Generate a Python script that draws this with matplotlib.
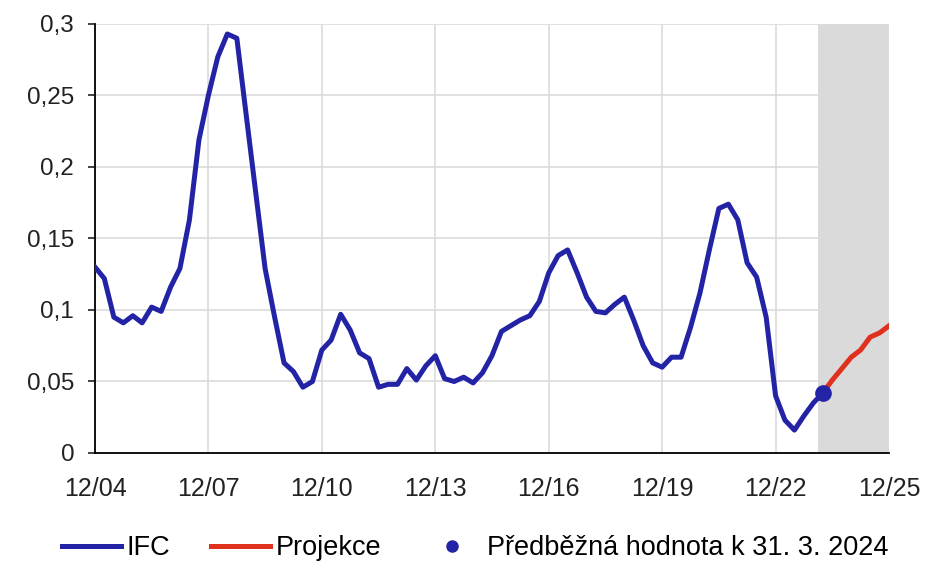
import pandas as pd
import matplotlib
matplotlib.use("Agg")
import matplotlib.pyplot as plt
import matplotlib.dates as mdates
from matplotlib.lines import Line2D

plt.rcParams["font.family"] = ["Liberation Sans", "DejaVu Sans"]
plt.rcParams["font.size"] = 17.5

# IFC, čtvrtletně od 12/2004 do 3/2024
ifc = [0.130, 0.122, 0.095, 0.091, 0.096, 0.091, 0.102, 0.099, 0.116, 0.129,
       0.163, 0.219, 0.250, 0.277, 0.293, 0.290, 0.236, 0.183, 0.129, 0.095,
       0.063, 0.057, 0.046, 0.050, 0.072, 0.079, 0.097, 0.086, 0.070, 0.066,
       0.046, 0.048, 0.048, 0.059, 0.051, 0.061, 0.068, 0.052, 0.050, 0.053,
       0.049, 0.056, 0.068, 0.085, 0.089, 0.093, 0.096, 0.106, 0.126, 0.138,
       0.142, 0.126, 0.109, 0.099, 0.098, 0.104, 0.109, 0.093, 0.075, 0.063,
       0.060, 0.067, 0.067, 0.088, 0.112, 0.142, 0.171, 0.174, 0.163, 0.133,
       0.123, 0.095, 0.040, 0.023, 0.016, 0.026, 0.035, 0.042]

# projekce od 3/2024 do 12/2025
projekce = [0.042, 0.051, 0.059, 0.067, 0.072, 0.081, 0.084, 0.089]

predbezna_datum = "2024-03-01"
predbezna_hodnota = 0.042

y_ticks = [0, 0.05, 0.1, 0.15, 0.2, 0.25, 0.3]
y_labels = ["0", "0,05", "0,1", "0,15", "0,2", "0,25", "0,3"]

dates = pd.date_range("2004-12-01", periods=len(ifc), freq="3MS")
proj_dates = pd.date_range("2024-03-01", periods=len(projekce), freq="3MS")
x_ticks = pd.date_range("2004-12-01", "2025-12-01", freq="36MS")

blue = "#2323a6"
red = "#e0301e"

fig = plt.figure(figsize=(9.26, 5.63), dpi=100)
ax = fig.add_axes([0.1026, 0.1954, 0.8575, 0.762])

ax.axvspan(pd.Timestamp("2024-01-15"), pd.Timestamp("2025-12-01"),
           color="#dadada", lw=0, zorder=0)
ax.plot(dates, ifc, color=blue, lw=3.6, solid_joinstyle="round", zorder=3)
ax.plot(proj_dates, projekce, color=red, lw=3.6, solid_joinstyle="round", zorder=3)
ax.plot(pd.Timestamp(predbezna_datum), predbezna_hodnota, "o", color=blue,
        ms=11, zorder=4)

ax.set_xlim(pd.Timestamp("2004-12-01"), pd.Timestamp("2025-12-01"))
ax.set_ylim(0, 0.3)
ax.set_xticks(x_ticks)
ax.xaxis.set_major_formatter(mdates.DateFormatter("%m/%y"))
ax.set_yticks(y_ticks)
ax.set_yticklabels(y_labels)

ax.set_axisbelow(True)
ax.grid(True, color="#dcdcdc", lw=1.2)
ax.spines["top"].set_visible(False)
ax.spines["right"].set_visible(False)
ax.spines["left"].set_linewidth(1.3)
ax.spines["bottom"].set_linewidth(1.3)
ax.tick_params(axis="y", length=5, width=1.2, pad=10, colors="#222222")
ax.tick_params(axis="x", length=0, labelsize=18, pad=17, colors="#222222")

handles = [
    Line2D([], [], color=blue, lw=3.6),
    Line2D([], [], color=red, lw=3.6),
    Line2D([], [], color=blue, marker="o", ls="none", ms=8),
]
fig.legend(handles, ["IFC", "Projekce", "Předběžná hodnota k 31. 3. 2024"],
           loc="lower center", bbox_to_anchor=(0.513, -0.04), ncol=3,
           frameon=False, fontsize=19.5, handlelength=2.2, handletextpad=0.2,
           columnspacing=1.5)

fig.savefig("out.png", dpi=100)
